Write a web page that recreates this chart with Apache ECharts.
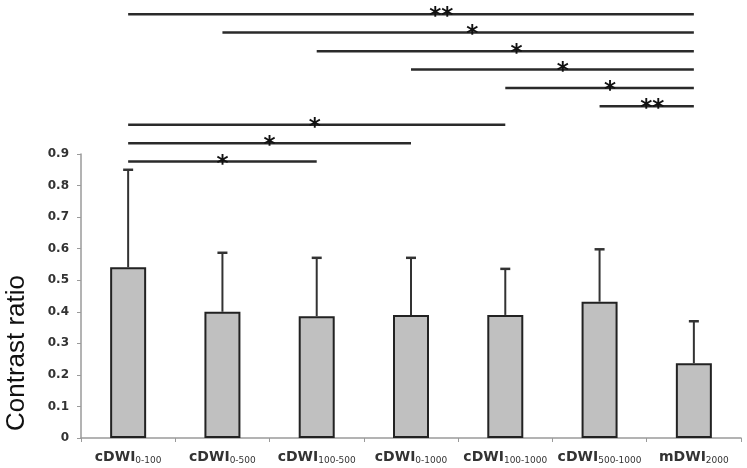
<!DOCTYPE html>
<html><head><meta charset="utf-8">
<script src="https://cdn.jsdelivr.net/npm/echarts@6/dist/echarts.min.js"></script>
<style>html,body{margin:0;padding:0;background:#fff}#c{width:747px;height:468px}</style>
</head><body><div id="c"></div>
<script>
// ---- data ----
const names = ['cDWI','cDWI','cDWI','cDWI','cDWI','cDWI','mDWI'];
const subs = ['0-100','0-500','100-500','0-1000','100-1000','500-1000','2000'];
const means = [0.541,0.400,0.386,0.390,0.390,0.432,0.237];
const sds = [0.309,0.187,0.185,0.181,0.146,0.166,0.133];
const yMax = 0.9, yStep = 0.1;
// significance brackets (category indices), level in y units, mark and mark position
const sigFrom = [0,1,2,3,4,5,0,0,0];
const sigTo = [6,6,6,6,6,6,4,3,2];
const sigLevel = [1.343,1.285,1.226,1.168,1.109,1.051,0.993,0.934,0.876];
const sigMark = ['**','*','*','*','*','**','*','*','*'];
const sigMarkPos = [3.32,3.65,4.12,4.61,5.11,5.56,1.98,1.5,1.0];

// ---- layout ----
const W = 747, H = 468;
const gLeft = 81, gRight = 6, gTop = 154, gBottom = 30;
const pxPerUnit = (H - gTop - gBottom) / yMax;
const sigMax = 1.38;
const gTop2 = H - gBottom - sigMax * pxPerUnit;

const cats = names.map((n,i)=>n+subs[i]);
const chart = echarts.init(document.getElementById('c'), null, {renderer:'canvas'});
chart.setOption({
  animation:false,
  backgroundColor:'#fff',
  grid:[
    {left:gLeft, right:gRight, top:gTop, bottom:gBottom},
    {left:gLeft, right:gRight, top:gTop2, bottom:gBottom}
  ],
  xAxis:[
    {type:'category', gridIndex:0, data:cats, boundaryGap:true,
     axisLine:{lineStyle:{color:'#9a9a9a', width:1.5}},
     axisTick:{show:true, length:4, lineStyle:{color:'#9a9a9a'}},
     axisLabel:{margin:10, interval:0,
       formatter:(v,i)=>'{m|'+names[i]+'}{s|'+subs[i]+'}',
       rich:{
         m:{fontFamily:'DejaVu Sans', fontWeight:'bold', fontSize:14, color:'#333', lineHeight:18},
         s:{fontFamily:'DejaVu Sans', fontSize:9, color:'#333', lineHeight:18, padding:[7,0,0,0]}
       }}},
    {type:'value', gridIndex:1, min:-0.5, max:6.5, show:false}
  ],
  yAxis:[
    {type:'value', gridIndex:0, min:0, max:yMax, interval:yStep,
     axisLine:{show:true, lineStyle:{color:'#9a9a9a', width:1.5}},
     axisTick:{show:true, length:4, lineStyle:{color:'#9a9a9a'}},
     splitLine:{show:false},
     axisLabel:{margin:12, fontFamily:'DejaVu Sans', fontWeight:'bold', fontSize:12, color:'#333',
       formatter:v=> v===0 ? '0' : v.toFixed(1)}},
    {type:'value', gridIndex:1, min:0, max:sigMax, show:false}
  ],
  graphic:[
    {type:'text', rotation:Math.PI/2, x:17, y:353,
     style:{text:'Contrast ratio', fontFamily:'Liberation Sans', fontSize:26, fill:'#111', align:'center', verticalAlign:'middle'}}
  ],
  series:[
    {type:'bar', xAxisIndex:0, yAxisIndex:0, data:means, barWidth:36,
     itemStyle:{color:'#c0c0c0', borderColor:'#222', borderWidth:2}},
    {type:'custom', xAxisIndex:0, yAxisIndex:0, z:3,
     data:means.map((m,i)=>[i,m,sds[i]]),
     encode:{x:0, y:1},
     renderItem:(params, api)=>{
       const i = api.value(0), m = api.value(1), s = api.value(2);
       const p0 = api.coord([i, m]), p1 = api.coord([i, m+s]);
       const st = {stroke:'#333', lineWidth:2};
       return {type:'group', children:[
         {type:'line', shape:{x1:p0[0], y1:p0[1], x2:p1[0], y2:p1[1]}, style:st},
         {type:'line', shape:{x1:p1[0]-5, y1:p1[1], x2:p1[0]+5, y2:p1[1]}, style:{stroke:'#333', lineWidth:2.5}}
       ]};
     }},
    {type:'custom', xAxisIndex:1, yAxisIndex:1, z:3,
     data:sigFrom.map((f,i)=>[f, sigTo[i], sigLevel[i], sigMarkPos[i], i]),
     encode:{x:[0,1], y:2},
     renderItem:(params, api)=>{
       const f = api.value(0), t = api.value(1), lv = api.value(2), mp = api.value(3), idx = api.value(4);
       const a = api.coord([f, lv]), b = api.coord([t, lv]), c = api.coord([mp, lv]);
       return {type:'group', children:[
         {type:'line', shape:{x1:a[0], y1:a[1], x2:b[0], y2:b[1]}, style:{stroke:'#2a2a2a', lineWidth:2.5}},
         {type:'text', x:c[0], y:c[1] + 3, z2:5, style:{text:sigMark[idx], fontFamily:'DejaVu Sans', fontWeight:'bold', fontSize:23, fill:'#111', align:'center', verticalAlign:'middle'}}
       ]};
     }}
  ]
});
</script></body></html>
